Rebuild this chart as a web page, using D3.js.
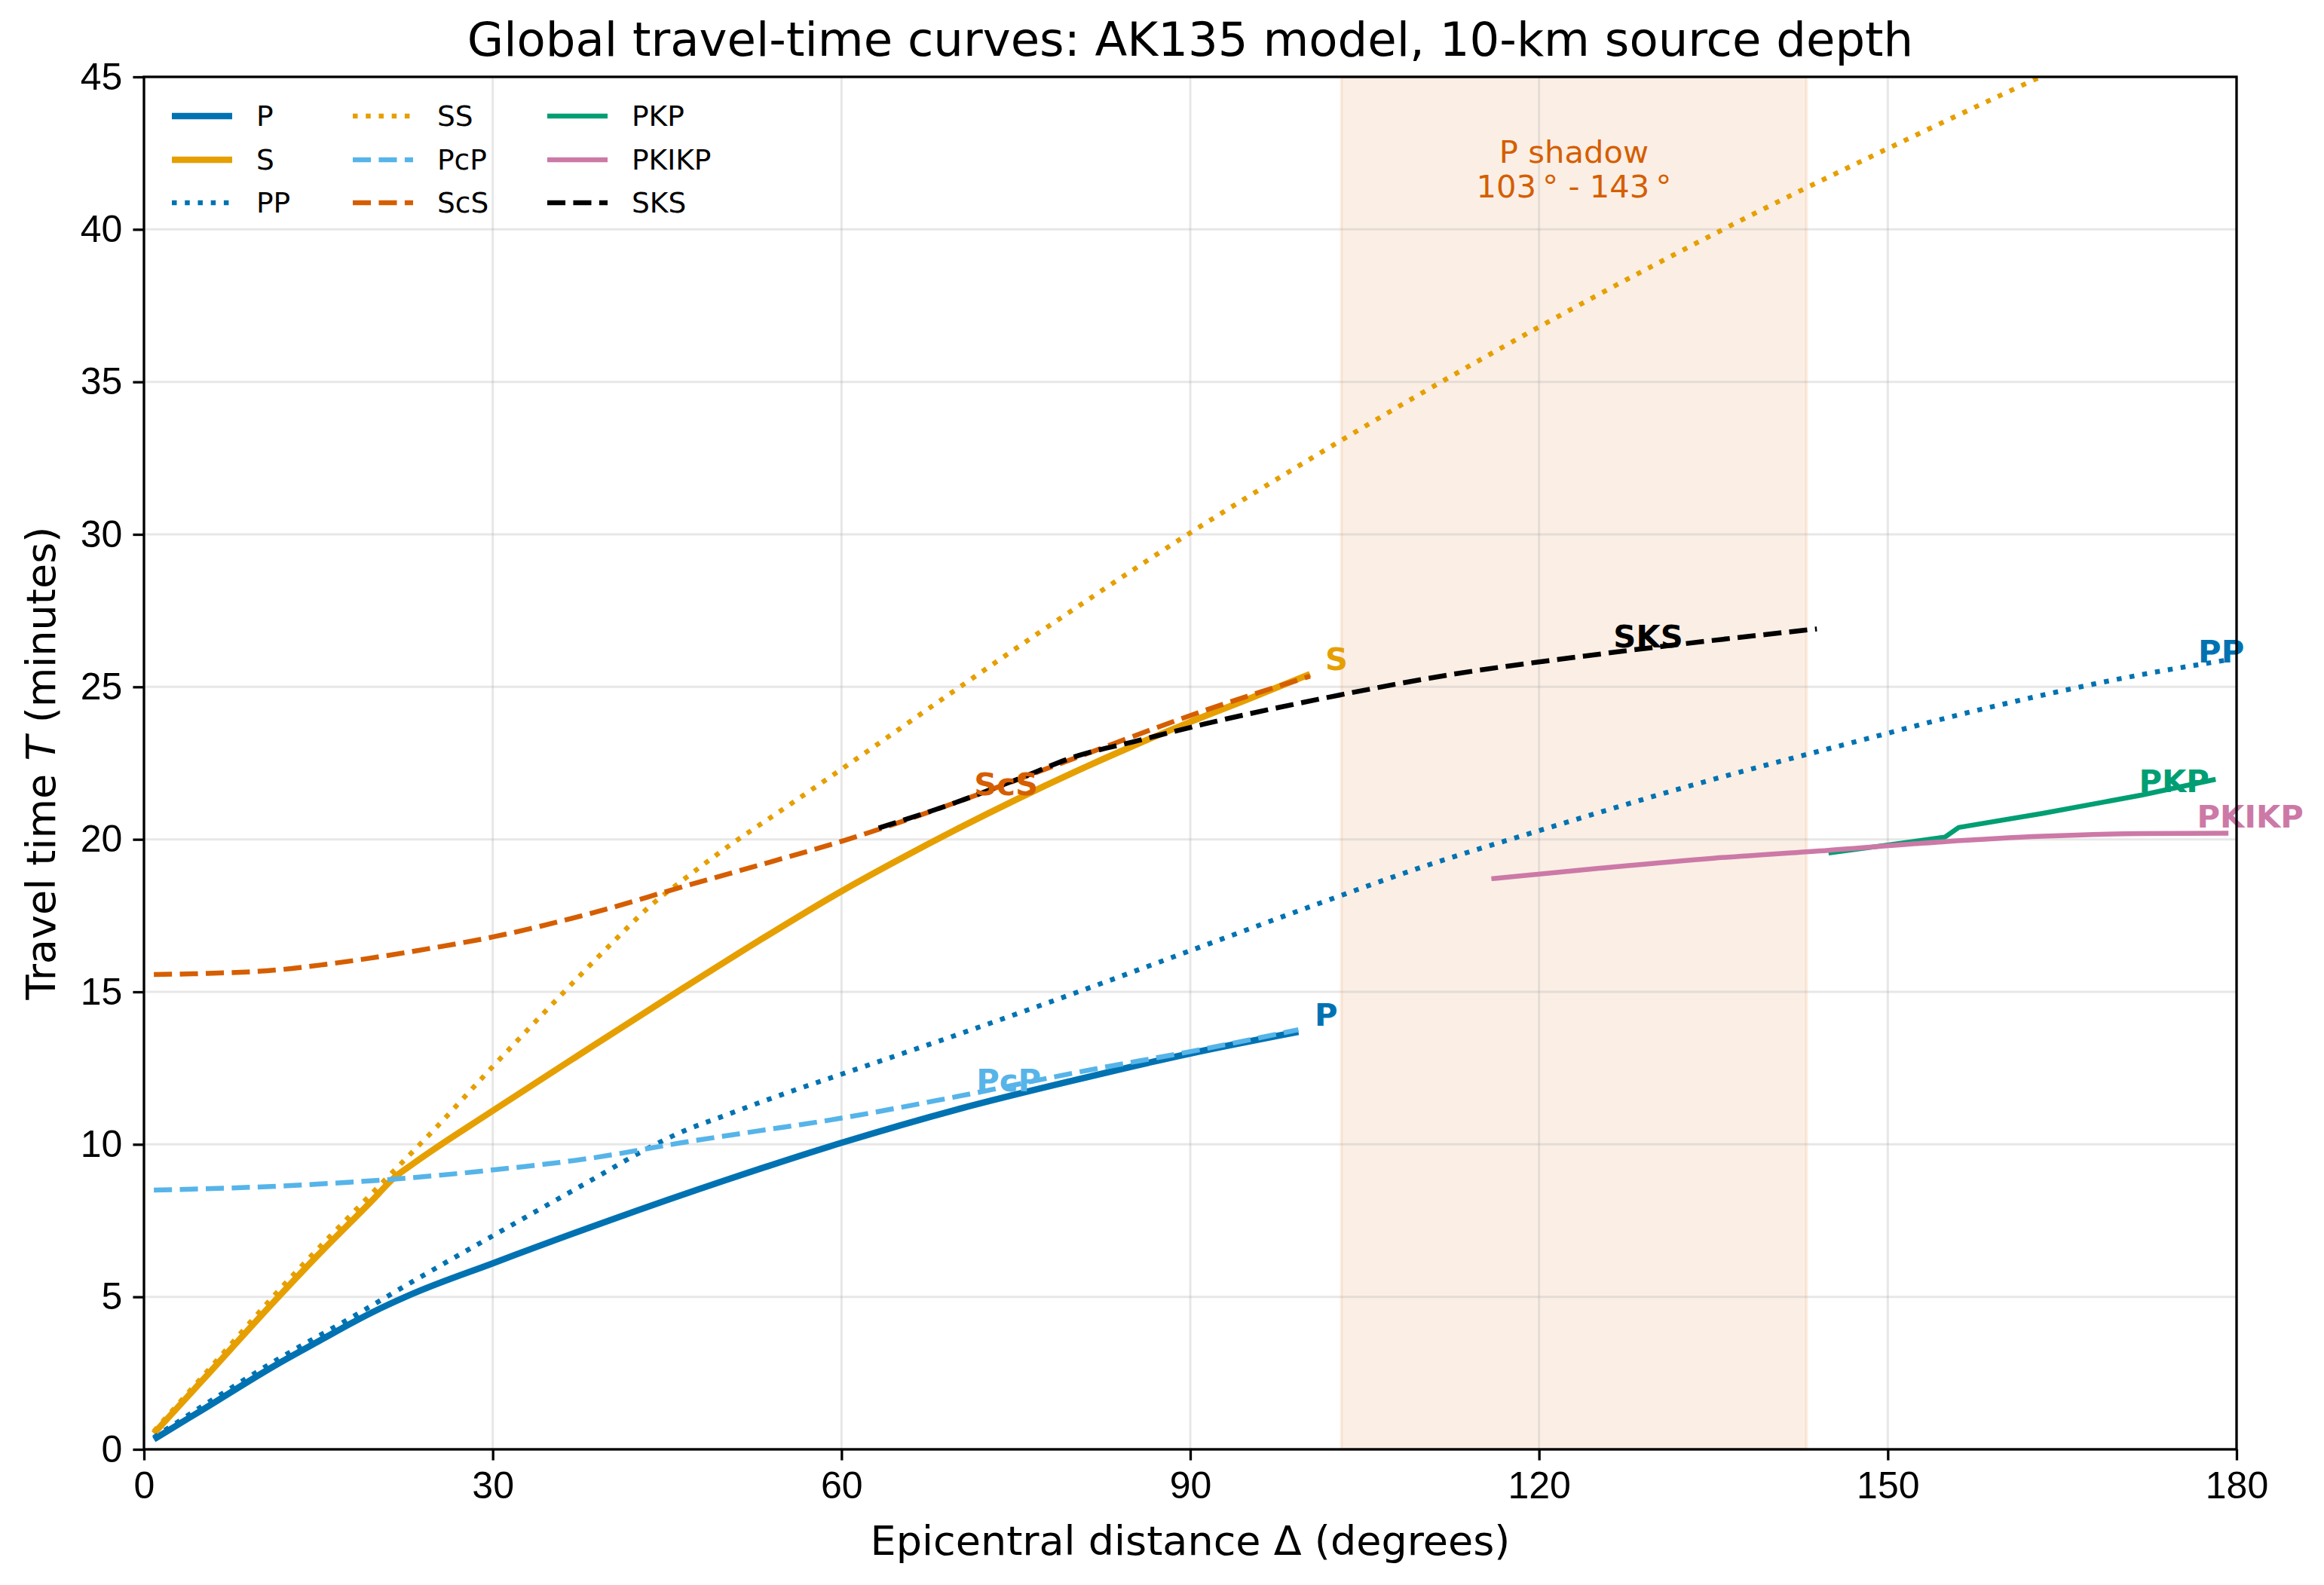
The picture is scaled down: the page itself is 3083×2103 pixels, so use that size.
<!DOCTYPE html>
<meta charset="utf-8">
<style>
body { margin: 0; background: #fff; }
svg { display: block; font-family: "DejaVu Sans", sans-serif; }
.grid line { stroke: #b0b0b0; stroke-opacity: 0.3; stroke-width: 3; }
.axis path, .axis line { stroke: #000; stroke-width: 3.3; }
.axis text { font-size: 50px; fill: #000; }
.curve { fill: none; }
.lbl { font-size: 41.7px; font-weight: bold; }
.leg text { font-size: 37.5px; fill: #000; }
</style>
<svg width="3083" height="2103"></svg>
<script src="https://d3js.org/d3.v7.min.js"></script>
<script>
// travel-time curves: [distance deg, time min]
var P     = [[0.85,0.33],[5,1.29],[11.5,2.8],[15,3.54],[18.1,4.19],[20,4.56],[23.1,5.1],[30,6.1],[40,7.5],[50,8.82],[60,10.05],[70,11.15],[80,12.1],[90,12.98],[99.3,13.69]];
var S     = [[0.85,0.52],[5,2.25],[11.5,4.97],[15,6.38],[19.6,8.15],[21.5,8.9],[23.1,9.35],[30,11.1],[38.5,13.2],[46.5,15.15],[53,16.7],[60,18.3],[65,19.35],[70,20.35],[75,21.3],[80,22.2],[85,23.05],[90,23.85],[95,24.6],[100.3,25.42]];
var PP    = [[0.85,0.39],[5,1.41],[11.5,2.95],[18.1,4.38],[23.1,5.5],[30,7.0],[38.5,8.83],[43.5,9.9],[46.2,10.4],[50,10.95],[55,11.65],[60,12.3],[70,13.6],[80,14.95],[90,16.35],[100,17.75],[110,19.1],[121,20.4],[133.4,21.8],[146.2,23.1],[159,24.35],[171.8,25.4],[179,25.87]];
var SS    = [[0.85,0.59],[5,2.37],[11.5,5.17],[20,8.55],[25,10.5],[30,12.55],[35,14.55],[40,16.5],[43.5,17.8],[47,18.85],[50,19.7],[55.4,21.1],[60,22.3],[70,24.95],[80,27.55],[90,30.05],[100,32.4],[110,34.65],[120,36.8],[130,38.85],[140,40.8],[150,42.65],[160,44.45],[166,45.5]];
var PcP   = [[0.85,8.5],[11.5,8.63],[21.5,8.86],[30,9.16],[38.5,9.55],[46.2,10.05],[53,10.45],[58.9,10.79],[69.7,11.55],[80.4,12.37],[91.2,13.13],[99.3,13.76]];
var ScS   = [[0.85,15.57],[5,15.6],[11.5,15.72],[15.4,15.89],[19.2,16.09],[25,16.45],[30,16.8],[38.5,17.58],[46.2,18.43],[53.8,19.25],[60.3,19.97],[69.7,21.19],[80.4,22.71],[91.2,24.22],[100.3,25.35]];
var SKS   = [[63.2,20.37],[69.7,21.19],[75,21.95],[80.4,22.75],[85,23.19],[91.2,23.78],[101.9,24.66],[112.7,25.42],[123.5,25.99],[134.2,26.49],[143.9,26.9]];
var PKP   = [[144.9,19.55],[154.9,20.07],[156.1,20.39],[163.3,20.85],[171.8,21.45],[178.2,21.97]];
var PKIKP = [[115.9,18.71],[125.2,19.05],[135,19.38],[144.9,19.64],[154.7,19.92],[163.3,20.1],[171.8,20.19],[179.3,20.2]];

var xTicks = [0, 30, 60, 90, 120, 150, 180];
var yTicks = [0, 5, 10, 15, 20, 25, 30, 35, 40, 45];
var shadow = [103, 143];

var phases = [
  {name: "P",     data: P,     color: "#0072B2", lw: 8.5, dash: null},
  {name: "S",     data: S,     color: "#E69F00", lw: 8.5, dash: null},
  {name: "PP",    data: PP,    color: "#0072B2", lw: 6.5, dash: "dot"},
  {name: "SS",    data: SS,    color: "#E69F00", lw: 6.5, dash: "dot"},
  {name: "PcP",   data: PcP,   color: "#56B4E9", lw: 6.5, dash: "dash"},
  {name: "ScS",   data: ScS,   color: "#D55E00", lw: 6.5, dash: "dash"},
  {name: "PKP",   data: PKP,   color: "#009E73", lw: 6.5, dash: null, straight: true},
  {name: "PKIKP", data: PKIKP, color: "#CC79A7", lw: 6.5, dash: null},
  {name: "SKS",   data: SKS,   color: "#000000", lw: 6.5, dash: "dash"}
];

// inline labels: [name, distance, time]
var labels = [["P",100.7,14.25],["S",101.6,25.9],["ScS",71.4,21.8],["PcP",71.6,12.1],
              ["SKS",126.4,26.65],["PP",176.7,26.15],["PKP",171.6,21.9],["PKIKP",176.6,20.75]];

function dashArr(p) {
  if (p.dash == "dot")  return (1 * p.lw) + "," + (1.65 * p.lw);
  if (p.dash == "dash") return (3.7 * p.lw) + "," + (1.6 * p.lw);
  return null;
}

var svg = d3.select("svg");
var m = {l: 191, r: 116, t: 102, b: 180};
var width = 3083 - m.l - m.r, height = 2103 - m.t - m.b;

var x = d3.scaleLinear().domain([0, 180]).range([0, width]);
var y = d3.scaleLinear().domain([0, 45]).range([height, 0]);

var g = svg.append("g").attr("transform", "translate(" + m.l + "," + m.t + ")");

g.append("clipPath").attr("id", "clip")
  .append("rect").attr("width", width).attr("height", height);

// P shadow band
g.append("rect")
  .attr("x", x(shadow[0])).attr("width", x(shadow[1]) - x(shadow[0]))
  .attr("y", 0).attr("height", height)
  .attr("fill", "#D55E00").attr("fill-opacity", 0.1)
  .attr("stroke", "#D55E00").attr("stroke-opacity", 0.1).attr("stroke-width", 4);

// grid
var grid = g.append("g").attr("class", "grid");
grid.selectAll(".gx").data(xTicks).enter().append("line")
  .attr("x1", x).attr("x2", x).attr("y1", 0).attr("y2", height);
grid.selectAll(".gy").data(yTicks).enter().append("line")
  .attr("y1", y).attr("y2", y).attr("x1", 0).attr("x2", width);

var smooth = d3.line()
  .x(function(d) { return x(d[0]); })
  .y(function(d) { return y(d[1]); })
  .curve(d3.curveMonotoneX);
var straight = d3.line()
  .x(function(d) { return x(d[0]); })
  .y(function(d) { return y(d[1]); });

var curves = g.append("g").attr("clip-path", "url(#clip)");
curves.selectAll("path")
  .data(phases)
  .enter().append("path")
    .attr("class", "curve")
    .attr("d", function(d) { return d.straight ? straight(d.data) : smooth(d.data); })
    .attr("stroke", function(d) { return d.color; })
    .attr("stroke-width", function(d) { return d.lw; })
    .attr("stroke-linejoin", "round")
    .attr("stroke-dasharray", dashArr);

// inline labels
var colorOf = {};
phases.forEach(function(p) { colorOf[p.name] = p.color; });
g.selectAll(".lbl")
  .data(labels)
  .enter().append("text")
    .attr("class", "lbl")
    .attr("x", function(d) { return x(d[1]); })
    .attr("y", function(d) { return y(d[2]); })
    .attr("dominant-baseline", "central")
    .attr("fill", function(d) { return colorOf[d[0]]; })
    .text(function(d) { return d[0]; });

// shadow note
var note = g.append("text")
  .attr("text-anchor", "middle")
  .attr("fill", "#D55E00")
  .style("font-size", "41.7px");
note.append("tspan").attr("x", x(123)).attr("y", y(42.55)).attr("dominant-baseline", "central").text("P shadow");
note.append("tspan").attr("x", x(123)).attr("y", y(41.4)).attr("dominant-baseline", "central").text("103\u2009\u00b0  - 143\u2009\u00b0");

// axes
var xAxis = g.append("g").attr("class", "axis")
  .attr("transform", "translate(0," + height + ")")
  .call(d3.axisBottom(x).tickValues(xTicks).tickSize(14.6).tickPadding(12).tickSizeOuter(0));
var yAxis = g.append("g").attr("class", "axis")
  .call(d3.axisLeft(y).tickValues(yTicks).tickSize(14.6).tickPadding(14).tickSizeOuter(0));
xAxis.select(".domain").remove();
yAxis.select(".domain").remove();
xAxis.selectAll("text").attr("dy", "0.76em");

g.append("rect").attr("width", width).attr("height", height)
  .attr("fill", "none").attr("stroke", "#000").attr("stroke-width", 3.3);

// legend
var legCols = [225, 465, 723];
var legRows = [154, 212, 269];
var leg = svg.append("g").attr("class", "leg");
phases.forEach(function(p, i) {
  var cx = legCols[Math.floor(i / 3)], cy = legRows[i % 3];
  leg.append("line")
    .attr("x1", cx + 3).attr("x2", cx + 83).attr("y1", cy).attr("y2", cy)
    .attr("stroke", p.color).attr("stroke-width", p.lw)
    .attr("stroke-dasharray", dashArr(p));
  leg.append("text").attr("x", cx + 115).attr("y", cy)
    .attr("dominant-baseline", "central").text(p.name);
});

// titles
svg.append("text")
  .attr("x", m.l + width / 2).attr("y", 74)
  .attr("text-anchor", "middle").style("font-size", "62.5px")
  .text("Global travel-time curves: AK135 model, 10-km source depth");

svg.append("text")
  .attr("x", m.l + width / 2).attr("y", 2063)
  .attr("text-anchor", "middle").style("font-size", "54px")
  .text("Epicentral distance \u0394 (degrees)");

var yl = svg.append("text")
  .attr("transform", "translate(73," + (m.t + height / 2) + ") rotate(-90)")
  .attr("text-anchor", "middle").style("font-size", "54px");
yl.append("tspan").text("Travel time ");
yl.append("tspan").style("font-style", "italic").text("T");
yl.append("tspan").text(" (minutes)");
</script>
